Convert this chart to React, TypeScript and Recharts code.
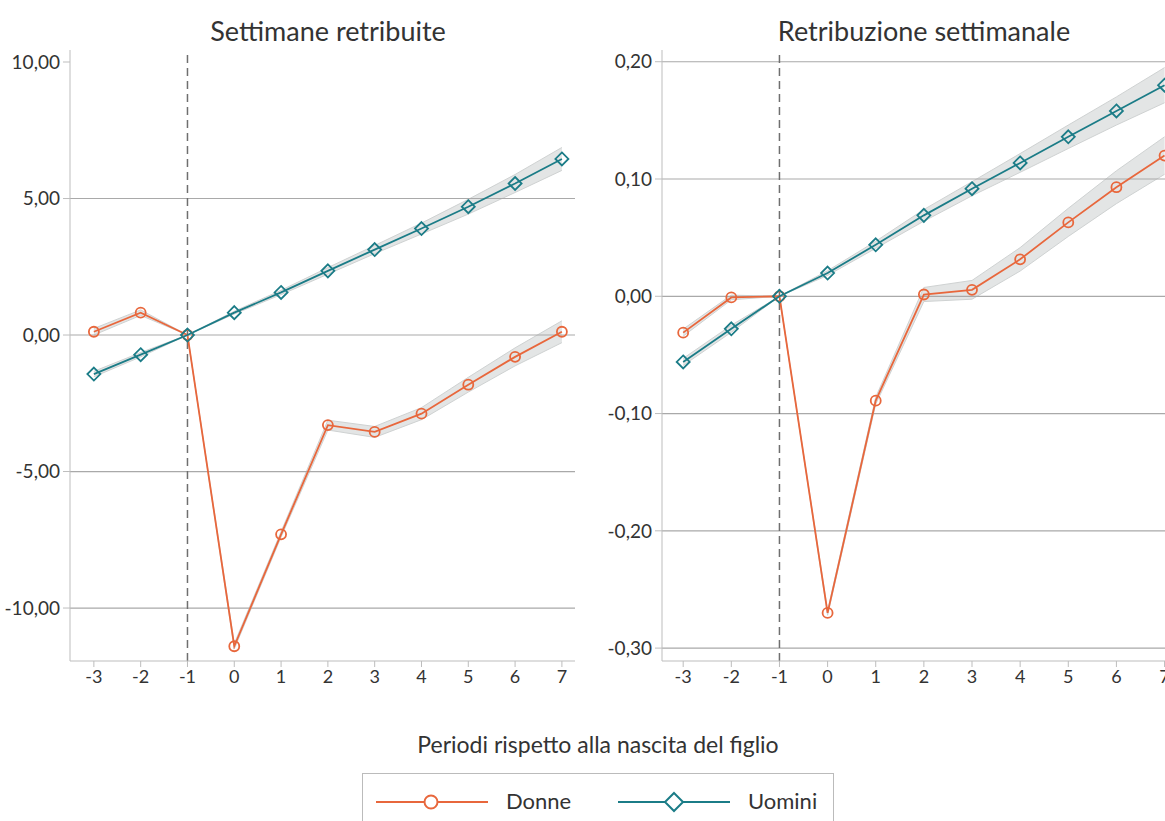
import {
  Area,
  ComposedChart,
  Line,
  ReferenceLine,
  XAxis,
  YAxis,
} from "recharts";

const periods = [-3, -2, -1, 0, 1, 2, 3, 4, 5, 6, 7];

// Settimane retribuite
const donneSett = [0.12, 0.82, 0, -11.4, -7.3, -3.3, -3.55, -2.88, -1.82, -0.8, 0.12];
const uominiSett = [-1.43, -0.72, 0, 0.82, 1.56, 2.35, 3.13, 3.9, 4.7, 5.55, 6.45];
const donneSettCi = [0.12, 0.1, 0, 0.1, 0.1, 0.18, 0.2, 0.22, 0.27, 0.33, 0.4];
const uominiSettCi = [0.1, 0.08, 0, 0.05, 0.08, 0.12, 0.15, 0.2, 0.27, 0.33, 0.42];
const settTicks = [-10, -5, 0, 5, 10];
const settGrid = [-10, -5, 0, 5];

// Retribuzione settimanale
const donneRetr = [-0.031, -0.001, 0, -0.27, -0.089, 0.0015, 0.0055, 0.0315, 0.063, 0.093, 0.12];
const uominiRetr = [-0.056, -0.0277, 0, 0.0198, 0.0439, 0.069, 0.0917, 0.1137, 0.136, 0.158, 0.18];
const donneRetrCi = [0.003, 0.002, 0, 0.002, 0.003, 0.006, 0.008, 0.01, 0.012, 0.014, 0.016];
const uominiRetrCi = [0.003, 0.003, 0, 0.002, 0.003, 0.005, 0.006, 0.008, 0.01, 0.012, 0.015];
const retrTicks = [-0.3, -0.2, -0.1, 0, 0.1, 0.2];
const retrGrid = [-0.3, -0.2, -0.1, 0, 0.1, 0.2];

const ORANGE = "#e8673c";
const TEAL = "#1b7c87";
const FONT = "Lato, 'Open Sans', sans-serif";
const TEXT = "#333";

const fmt = (v: number) => v.toFixed(2).replace(".", ",");

function Circle(props: any) {
  const { cx, cy, index } = props;
  if (cx == null || cy == null) return <g key={`c-${index}`} />;
  return <circle key={`c-${index}`} cx={cx} cy={cy} r={5} fill="none" stroke={ORANGE} strokeWidth={1.8} />;
}

function Diamond(props: any) {
  const { cx, cy, index } = props;
  if (cx == null || cy == null) return <g key={`d-${index}`} />;
  const s = 6.5;
  return (
    <path
      key={`d-${index}`}
      d={`M${cx},${cy - s}L${cx + s},${cy}L${cx},${cy + s}L${cx - s},${cy}Z`}
      fill="none"
      stroke={TEAL}
      strokeWidth={1.8}
    />
  );
}

type PanelProps = {
  donne: number[];
  uomini: number[];
  donneCi: number[];
  uominiCi: number[];
  yDomain: [number, number];
  xDomain: [number, number];
  yTicks: number[];
  grid: number[];
  width: number;
  right: number;
};

function Panel({ donne, uomini, donneCi, uominiCi, yDomain, xDomain, yTicks, grid, width, right }: PanelProps) {
  const data = periods.map((p, i) => ({
    p,
    donne: donne[i],
    uomini: uomini[i],
    dRange: [donne[i] - donneCi[i], donne[i] + donneCi[i]],
    uRange: [uomini[i] - uominiCi[i], uomini[i] + uominiCi[i]],
  }));
  return (
    <ComposedChart
      width={width}
      height={710}
      data={data}
      margin={{ top: 50, right, bottom: 9, left: 0 }}
    >
      {grid.map((g) => (
        <ReferenceLine key={g} y={g} stroke="#a9a9a9" strokeWidth={1.2} />
      ))}
      <XAxis
        dataKey="p"
        type="number"
        domain={xDomain}
        ticks={periods}
        allowDataOverflow
        height={40}
        tickSize={6}
        tickMargin={3}
        stroke="#bdbdbd"
        tick={{ fill: TEXT, fontSize: 18, fontFamily: FONT }}
      />
      <YAxis
        type="number"
        domain={yDomain}
        ticks={yTicks}
        allowDataOverflow
        width={70}
        tickSize={7}
        tickMargin={3}
        stroke="#bdbdbd"
        tickFormatter={fmt}
        tick={{ fill: TEXT, fontSize: 19, fontFamily: FONT }}
      />
      <Area dataKey="uRange" stroke="#cfd2d2" strokeWidth={1} fill="#e3e5e5" fillOpacity={1} isAnimationActive={false} />
      <Area dataKey="dRange" stroke="#cfd2d2" strokeWidth={1} fill="#e3e5e5" fillOpacity={1} isAnimationActive={false} />
      <ReferenceLine x={-1} stroke="#6f6f6f" strokeWidth={1.5} strokeDasharray="8 5" />
      <Line dataKey="donne" stroke={ORANGE} strokeWidth={1.8} dot={Circle} isAnimationActive={false} />
      <Line dataKey="uomini" stroke={TEAL} strokeWidth={1.8} dot={Diamond} isAnimationActive={false} />
    </ComposedChart>
  );
}

export default function App() {
  return (
    <div
      style={{
        position: "fixed",
        left: 0,
        top: 0,
        width: 1165,
        height: 821,
        overflow: "hidden",
        background: "#fff",
        fontFamily: FONT,
        color: TEXT,
      }}
    >
      <div style={{ position: "absolute", left: 0, top: 0 }}>
        <Panel
          donne={donneSett}
          uomini={uominiSett}
          donneCi={donneSettCi}
          uominiCi={uominiSettCi}
          yDomain={[-11.94, 10.44]}
          xDomain={[-3.51, 7.28]}
          yTicks={settTicks}
          grid={settGrid}
          width={590}
          right={15}
        />
      </div>
      <div style={{ position: "absolute", left: 592, top: 0 }}>
        <Panel
          donne={donneRetr}
          uomini={uominiRetr}
          donneCi={donneRetrCi}
          uominiCi={uominiRetrCi}
          yDomain={[-0.311, 0.21]}
          xDomain={[-3.44, 7.3]}
          yTicks={retrTicks}
          grid={retrGrid}
          width={587}
          right={0}
        />
      </div>
      <div style={{ position: "absolute", left: 128, width: 400, top: 15, textAlign: "center", fontSize: 27, lineHeight: "32px" }}>
        Settimane retribuite
      </div>
      <div style={{ position: "absolute", left: 724, width: 400, top: 15, textAlign: "center", fontSize: 27, lineHeight: "32px" }}>
        Retribuzione settimanale
      </div>
      <div style={{ position: "absolute", left: 298, width: 600, top: 730, textAlign: "center", fontSize: 23, lineHeight: "28px" }}>
        Periodi rispetto alla nascita del figlio
      </div>
      <div
        style={{
          position: "absolute",
          left: 362,
          top: 773,
          width: 472,
          height: 60,
          border: "1px solid #bbb",
          boxSizing: "border-box",
        }}
      >
        <svg width={472} height={60} style={{ position: "absolute", left: 0, top: 0 }}>
          <line x1={13} y1={28} x2={125} y2={28} stroke={ORANGE} strokeWidth={2} />
          <circle cx={68} cy={28} r={6.5} fill="#fff" stroke={ORANGE} strokeWidth={2} />
          <text x={143} y={35} fontSize={22} fill={TEXT} fontFamily={FONT}>Donne</text>
          <line x1={255} y1={28} x2={367} y2={28} stroke={TEAL} strokeWidth={2} />
          <path d="M311,19L320,28L311,37L302,28Z" fill="#fff" stroke={TEAL} strokeWidth={2} />
          <text x={385} y={35} fontSize={22} fill={TEXT} fontFamily={FONT}>Uomini</text>
        </svg>
      </div>
    </div>
  );
}
